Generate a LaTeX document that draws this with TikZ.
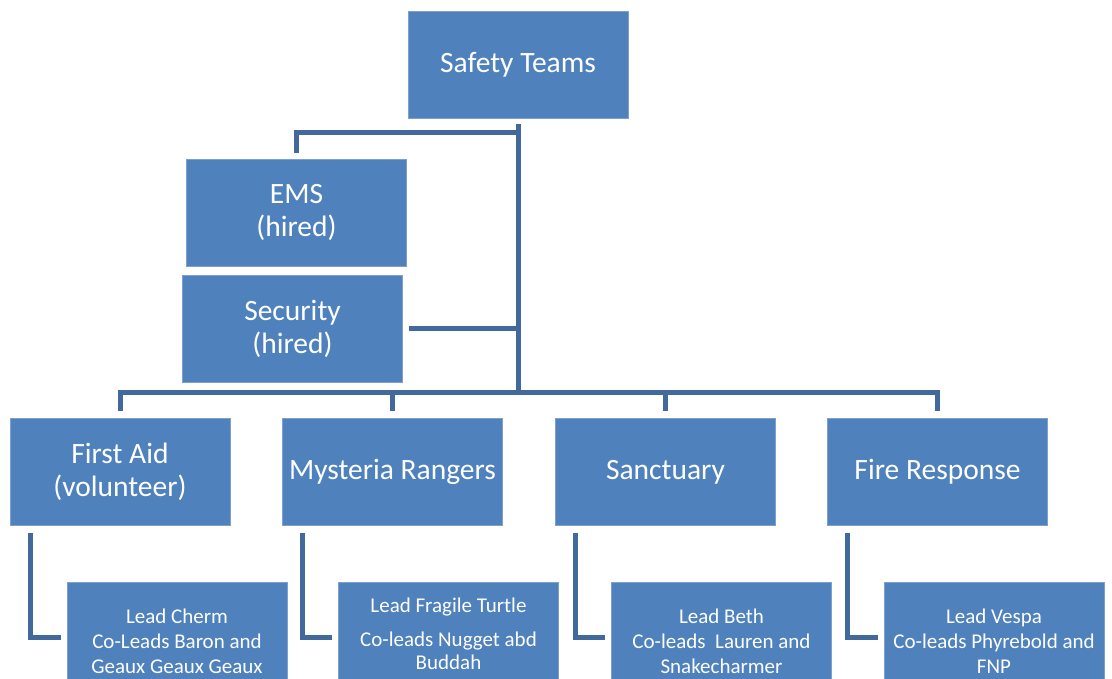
\documentclass[tikz,border=0pt]{standalone}
\usepackage{fontspec}
\setmainfont{Carlito}
\definecolor{boxfill}{HTML}{4F81BD}
\definecolor{boxedge}{HTML}{7FA0CF}
\definecolor{linecol}{HTML}{41699B}
\begin{document}
\begin{tikzpicture}[x=1pt,y=-1pt,
  box/.style={draw=boxedge,line width=0.8pt,fill=boxfill,text=white,
    minimum width=220pt,minimum height=107pt,inner sep=2pt,align=center,
    font=\fontsize{29.5}{32.5}\selectfont},
  subbox/.style={box,minimum width=220pt,minimum height=118pt,
    font=\fontsize{21}{25}\selectfont},
  conn/.style={draw=linecol,line width=5pt}]
\useasboundingbox (0,0) rectangle (1112,679);
% top
\node[box] (top) at (518,64.5) {Safety Teams};
\node[box] (ems) at (296.5,212.5) {EMS\\(hired)};
\node[box] (sec) at (292.5,329) {Security\\(hired)};
% level 1
\node[box] (fa) at (120,472) {First Aid\\(volunteer)};
\node[box] (mr) at (392.5,472) {Mysteria Rangers};
\node[box] (sa) at (665.5,472) {Sanctuary};
\node[box] (fr) at (937.5,472) {Fire Response};
% children
\node[subbox] (fac) at (177,641) {Lead Cherm\\Co-Leads Baron and\\Geaux Geaux Geaux};
\node[subbox,minimum height=104pt] (mrc) at (448.5,634) {Lead Fragile Turtle\\[9pt]Co-leads Nugget abd\\[-2pt]Buddah};
\node[subbox] (sac) at (721.5,641) {Lead Beth\\Co-leads\ \ Lauren and\\Snakecharmer};
\node[subbox] (frc) at (994,641) {Lead Vespa\\Co-leads Phyrebold and\\FNP};
% connectors
\coordinate (hub) at (518,392.5);
\coordinate (emsj) at (518,132.5);
\draw[conn] ([yshift=-6pt]top.south) -- (hub);
\draw[conn] (emsj) -| ([yshift=6pt]ems.north);
\draw[conn] ([xshift=6pt]sec.east) -- (sec.east -| hub);
\draw[conn] ([yshift=7pt]fa.north) |- (hub) -| ([yshift=7pt]fr.north);
\draw[conn] ([yshift=7pt]mr.north) -- (mr.north |- hub);
\draw[conn] ([yshift=7pt]sa.north) -- (sa.north |- hub);
\draw[conn] ([xshift=20.5pt,yshift=-7pt]fa.south west) |- ([xshift=-6pt,yshift=4pt]fac.west);
\draw[conn] ([xshift=20.5pt,yshift=-7pt]mr.south west) |- ([xshift=-6pt,yshift=-3pt]mrc.west);
\draw[conn] ([xshift=20.5pt,yshift=-7pt]sa.south west) |- ([xshift=-6pt,yshift=4pt]sac.west);
\draw[conn] ([xshift=20.5pt,yshift=-7pt]fr.south west) |- ([xshift=-6pt,yshift=4pt]frc.west);
\end{tikzpicture}
\end{document}
